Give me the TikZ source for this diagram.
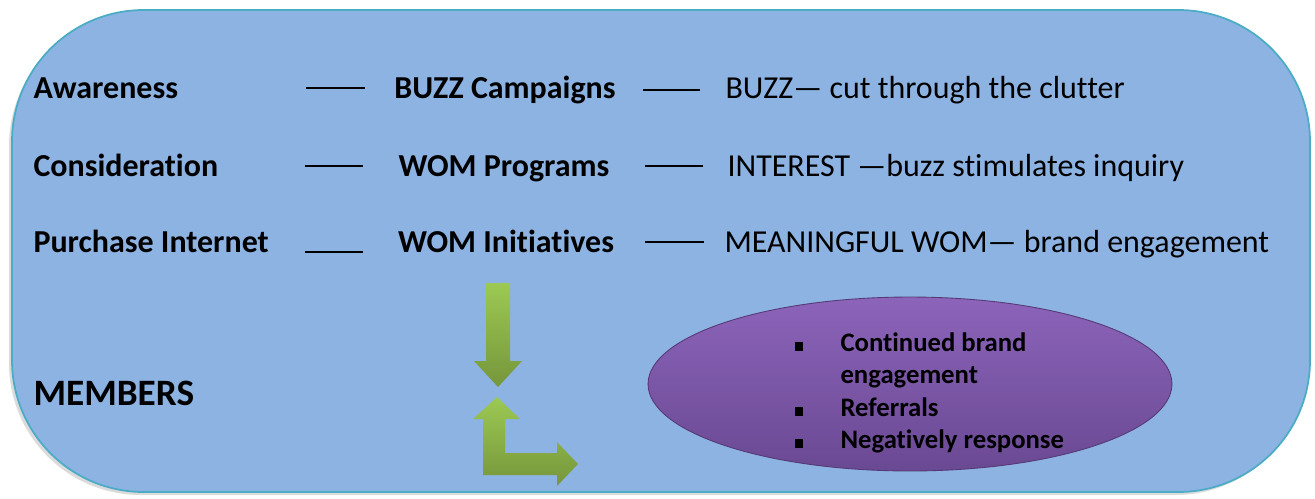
\documentclass[tikz,border=0pt]{standalone}
\usepackage{fontspec}
\setmainfont{Carlito}[Ligatures=CommonOff]
\usetikzlibrary{shapes.geometric}
\definecolor{panelblue}{HTML}{8DB3E2}
\definecolor{paneledge}{HTML}{4BACC6}
\definecolor{arrowtop}{HTML}{9CC953}
\definecolor{arrowbot}{HTML}{76963B}
\definecolor{ovaltop}{HTML}{8C64BA}
\definecolor{ovalbot}{HTML}{6A4993}
\newcommand{\sq}{\rule{0.32em}{0.32em}}

\begin{document}
\begin{tikzpicture}[x=0.02cm, y=-0.02cm, line width=0.6pt,
  lbl/.style={font=\fontsize{18.2}{22}\selectfont\bfseries, inner sep=0pt, anchor=base west},
  mid/.style={font=\fontsize{18.2}{22}\selectfont\bfseries, inner sep=0pt, anchor=base},
  desc/.style={font=\fontsize{18.2}{22}\selectfont, inner sep=0pt, anchor=base west},
  dash line/.style={line width=1.2pt, black},
  green arrow/.style={top color=arrowtop, bottom color=arrowbot, draw=none},
  item/.style={font=\fontsize{15.2}{18}\selectfont\bfseries, inner sep=0pt, anchor=base west}]
  \useasboundingbox (0,0) rectangle (1315,498);
  \fill[black!14, rounded corners=75] (9,14) rectangle (1307,495);
  \draw[fill=panelblue, draw=paneledge, line width=1pt, rounded corners=75] (12,10) rectangle (1310,492);

  \node[lbl] (awareness) at (33,98) {Awareness};
  \node[lbl] (consider) at (33,176) {Consideration};
  \node[lbl] (purchase) at (33,252) {Purchase Internet};
  \node[mid] (buzz) at (505,98) {BUZZ Campaigns};
  \node[mid] (womprog) at (504,176) {WOM Programs};
  \node[mid] (wominit) at (506,252) {WOM Initiatives};
  \node[desc] (buzzdesc) at (725,98) {BUZZ— cut through the clutter};
  \node[desc] (interest) at (727,176) {INTEREST —buzz stimulates inquiry};
  \node[desc] (meaningful) at (724,252) {MEANINGFUL WOM— brand engagement};
  \node[font=\fontsize{21.2}{25}\selectfont\bfseries, inner sep=0pt, anchor=base west] (members) at (33,405) {MEMBERS};

  \draw[dash line] (306,88) -- (365,88);
  \draw[dash line] (643,90) -- (700,90);
  \draw[dash line] (305,166) -- (363,166);
  \draw[dash line] (645,166) -- (703,166);
  \draw[dash line] (305,252) -- (363,252);
  \draw[dash line] (645,242) -- (704,242);

  \shade[green arrow] (486,283) -- (510,283) -- (510,361) -- (522,361) -- (498,387)
    -- (474,361) -- (486,361) -- cycle;
  \shade[green arrow] (497,397) -- (520,419) -- (505,419) -- (505,453) -- (557,453)
    -- (557,442) -- (578,464) -- (557,486) -- (557,475) -- (483,475) -- (483,419)
    -- (473,419) -- cycle;

  \node[ellipse, minimum width=10.48cm, minimum height=3.48cm, top color=ovaltop,
    bottom color=ovalbot, draw=ovalbot!80!black, line width=0.5pt] (engage) at (910,384) {};
  \node[item] (bul1) at (794,351) {\sq};
  \node[item] (cont) at (840,351) {Continued brand};
  \node[item] (engm) at (840,383) {engagement};
  \node[item] (bul2) at (794,416) {\sq};
  \node[item] (refer) at (840,416) {Referrals};
  \node[item] (bul3) at (794,448) {\sq};
  \node[item] (negat) at (840,448) {Negatively response};
\end{tikzpicture}
\end{document}
